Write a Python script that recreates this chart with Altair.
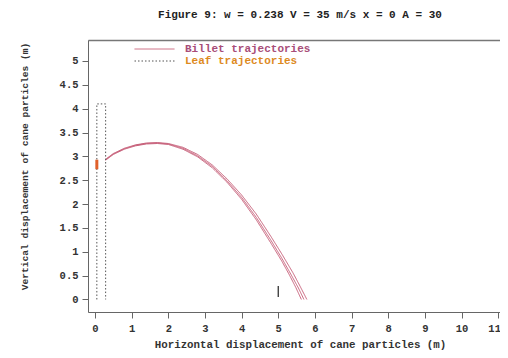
import altair as alt
import pandas as pd

# ---- data ----
title_text = "Figure 9: w = 0.238 V = 35 m/s x = 0 A = 30"
x_title = "Horizontal displacement of cane particles (m)"
y_title = "Vertical displacement of cane particles (m)"

kinds = ["Billet trajectories", "Leaf trajectories"]

billet_a_x = [0.29, 0.5, 0.8, 1.1, 1.4, 1.7, 2.0, 2.4, 2.8, 3.2, 3.6, 4.0, 4.4, 4.8, 5.1, 5.4, 5.6, 5.78]
billet_a_y = [2.94, 3.06, 3.17, 3.24, 3.28, 3.29, 3.27, 3.19, 3.04, 2.82, 2.53, 2.19, 1.79, 1.32, 0.95, 0.56, 0.27, 0.0]

billet_b_x = [0.29, 0.5, 0.8, 1.1, 1.4, 1.7, 2.0, 2.4, 2.8, 3.2, 3.6, 4.0, 4.4, 4.8, 5.1, 5.35, 5.55, 5.70]
billet_b_y = [2.93, 3.05, 3.16, 3.23, 3.27, 3.28, 3.26, 3.17, 3.01, 2.79, 2.49, 2.14, 1.72, 1.24, 0.86, 0.52, 0.24, 0.0]

billet_c_x = [0.29, 0.5, 0.8, 1.1, 1.4, 1.7, 2.0, 2.4, 2.8, 3.2, 3.6, 4.0, 4.4, 4.8, 5.1, 5.3, 5.48, 5.63]
billet_c_y = [2.92, 3.04, 3.15, 3.22, 3.26, 3.27, 3.25, 3.15, 2.99, 2.76, 2.46, 2.10, 1.67, 1.18, 0.80, 0.52, 0.25, 0.0]

leaf_x = [0.05, 0.05, 0.29, 0.29]
leaf_y = [0.0, 4.1, 4.1, 0.0]

orange_x = [0.05, 0.05]
orange_y = [2.73, 2.93]

marker_x = [5.0, 5.0]
marker_y = [0.05, 0.28]

x_ticks = list(range(0, 12))
y_ticks = [0, 0.5, 1, 1.5, 2, 2.5, 3, 3.5, 4, 4.5, 5]

# ---- tables ----
rows = []
for name, xs, ys in [("a", billet_a_x, billet_a_y), ("b", billet_b_x, billet_b_y), ("c", billet_c_x, billet_c_y)]:
    for i, (xv, yv) in enumerate(zip(xs, ys)):
        rows.append({"x": xv, "y": yv, "kind": kinds[0], "traj": "billet_" + name, "order": i})
for i, (xv, yv) in enumerate(zip(leaf_x, leaf_y)):
    rows.append({"x": xv, "y": yv, "kind": kinds[1], "traj": "leaf", "order": i})
df = pd.DataFrame(rows)

df_orange = pd.DataFrame({"x": orange_x, "y": orange_y})
df_marker = pd.DataFrame({"x": marker_x, "y": marker_y})

FONT = "Liberation Mono"
x_scale = alt.Scale(domain=[-0.191, 11.05], nice=False, zero=False)
y_scale = alt.Scale(domain=[-0.263, 5.44], nice=False, zero=False)

y_enc = alt.Y("y:Q", scale=y_scale, axis=alt.Axis(
    values=y_ticks, format="~g", title=y_title, grid=False,
    domainColor="#666", tickColor="#666", tickSize=6, labelPadding=4,
    labelFont=FONT, labelFontSize=10.5, labelFontWeight="bold", labelColor="#333",
    titleFont=FONT, titleFontSize=9.6, titleFontWeight="bold", titleColor="#333",
    titleX=-64, titleY=126, titleAngle=270, titleBaseline="middle"))

legend = alt.Legend(
    title=None, orient="none", legendX=61, legendY=3.5, padding=0, rowPadding=0,
    symbolType="M-5,0H5", symbolSize=64, symbolStrokeWidth=1, labelOffset=25,
    labelFont=FONT, labelFontSize=11, labelFontWeight="bold",
    labelColor=alt.ExprRef("datum.label === 'Billet trajectories' ? '#a84d78' : '#dd8a1f'"))

lines = alt.Chart(df).mark_line(strokeWidth=1).encode(
    x=alt.X("x:Q", scale=x_scale, axis=alt.Axis(
        values=x_ticks, title=x_title, grid=False,
        domainColor="#666", tickColor="#666", tickSize=6, labelPadding=5,
        labelFont=FONT, labelFontSize=10.5, labelFontWeight="bold", labelColor="#333",
        labelOffset=alt.ExprRef("datum.value === 11 ? -4 : 0"),
        titleFont=FONT, titleFontSize=10.8, titleFontWeight="bold", titleColor="#333",
        titleX=212, titleY=35, titleBaseline="alphabetic")),
    y=y_enc,
    color=alt.Color("kind:N", scale=alt.Scale(domain=kinds, range=["#c8607a", "#555555"]), legend=legend),
    strokeDash=alt.StrokeDash("kind:N", scale=alt.Scale(domain=kinds, range=[[1, 0], [1.5, 2]]), legend=legend),
    detail="traj:N",
    order="order:Q",
)

top_axis = alt.Chart(df_marker).mark_point(opacity=0).encode(
    x=alt.X("x:Q", scale=x_scale, axis=alt.Axis(
        orient="top", labels=False, ticks=False, title=None, grid=False,
        domainColor="#777", domainWidth=1.5)),
    y=y_enc,
)

orange = alt.Chart(df_orange).mark_line(color="#e0602a", strokeWidth=3).encode(
    x=alt.X("x:Q", scale=x_scale, axis=None),
    y=y_enc,
)

marker = alt.Chart(df_marker).mark_line(color="#333", strokeWidth=1.3).encode(
    x=alt.X("x:Q", scale=x_scale, axis=None),
    y=y_enc,
)

chart = alt.layer(lines, orange, marker, top_axis).resolve_axis(x="independent").properties(
    width=412, height=272,
    autosize=alt.AutoSizeParams(type="none"),
    padding={"left": 80, "top": 32, "right": 0, "bottom": 38},
    title=alt.TitleParams(title_text, font=FONT, fontSize=11, fontWeight="bold",
                          color="#222", anchor="middle", dx=6, offset=20, frame="group"),
).configure_view(stroke=None).configure(background="white")

chart.save("out.html", embed_options={"renderer": "svg", "actions": False})
